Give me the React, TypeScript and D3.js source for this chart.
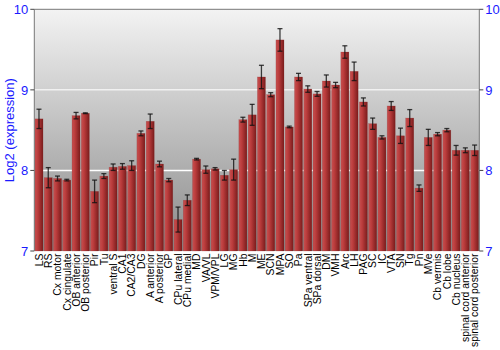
import React from "react";
import * as d3 from "d3";

const categories = ["LS","RS","Cx motor","Cx cingulate","OB anterior","OB posterior","Pir","Tu","ventral S","CA1","CA2/CA3","DG","A anterior","A posterior","GP","CPu lateral","CPu medial","MD","VA/VL","VPM/VPL","LG","MG","Hb","M","ME","SCN","MPA","SO","Pa","SPa ventral","SPa dorsal","DM","VMH","Arc","LH","PAG","SC","IC","VTA","SN","Tg","Pn","MVe","Cb vermis","Cb lobe","Cb nucleus","spinal cord anterior","spinal cord posterior"];
const values = [8.64,7.91,7.90,7.88,8.68,8.71,7.74,7.93,8.04,8.05,8.06,8.46,8.61,8.08,7.88,7.39,7.63,8.14,8.01,8.02,7.94,8.01,8.63,8.69,9.16,8.94,9.62,8.54,9.16,9.01,8.95,9.11,9.06,9.47,9.23,8.85,8.58,8.41,8.80,8.43,8.65,7.78,8.41,8.45,8.50,8.25,8.25,8.25];
const errors = [0.12,0.125,0.03,0.01,0.04,0.005,0.14,0.03,0.04,0.035,0.06,0.03,0.09,0.035,0.02,0.155,0.066,0.01,0.045,0.015,0.06,0.13,0.03,0.13,0.145,0.025,0.14,0.01,0.045,0.04,0.03,0.075,0.033,0.077,0.115,0.05,0.07,0.02,0.055,0.095,0.105,0.04,0.1,0.02,0.02,0.06,0.03,0.065];
const yTicks = [7,8,9,10];
const yTitle = "Log2 (expression)";

export default function App() {
  const W = 500, H = 350;
  const left = 34.3, right = 479.3, top = 9.3, bottom = 251;
  const x = d3.scaleBand<string>().domain(categories).range([left, right]).paddingInner(0.13).paddingOuter(0.07);
  const y = d3.scaleLinear().domain([7, 10]).range([bottom, top]);
  const font = "'Liberation Sans', Arial, sans-serif";
  const blue = "#1a1aff";
  return (
    <svg width={W} height={H} style={{ position: "absolute", left: 0, top: 0 }} xmlns="http://www.w3.org/2000/svg">
      <defs>
        <linearGradient id="bg" x1="0" y1="0" x2="0" y2="1">
          <stop offset="0%" stopColor="#f3f3f3" />
          <stop offset="100%" stopColor="#8a8a8a" />
        </linearGradient>
        <linearGradient id="bar" x1="0" y1="0" x2="1" y2="0">
          <stop offset="0%" stopColor="#c65050" />
          <stop offset="35%" stopColor="#bb3c3c" />
          <stop offset="100%" stopColor="#7a1c1c" />
        </linearGradient>
      </defs>
      <rect x={0} y={0} width={W} height={H} fill="#ffffff" />
      <rect x={left} y={top} width={right - left} height={bottom - top} fill="url(#bg)" />
      {yTicks.filter(t => t > 7 && t < 10).map(t => (
        <line key={t} x1={left} x2={right} y1={y(t)} y2={y(t)} stroke="#ffffff" strokeOpacity={t === 9 ? 0.7 : 1} strokeWidth={1.5} />
      ))}
      {categories.map((c, i) => (
        <g key={c}>
          <rect x={x(c)!} y={y(values[i])} width={x.bandwidth()} height={bottom - y(values[i])} fill="url(#bar)" stroke="#8a2a2a" strokeOpacity={0.4} strokeWidth={0.5} />
        </g>
      ))}
      {categories.map((c, i) => {
        const cx = x(c)! + x.bandwidth() / 2;
        const y1 = y(values[i] + errors[i]);
        const y2 = y(values[i] - errors[i]);
        return (
          <g key={"e" + c} stroke="#111" strokeOpacity={0.8} strokeWidth={1.3}>
            <line x1={cx} x2={cx} y1={y1} y2={y2} />
            <line x1={cx - 2.5} x2={cx + 2.5} y1={y1} y2={y1} />
            <line x1={cx - 2.5} x2={cx + 2.5} y1={y2} y2={y2} />
          </g>
        );
      })}
      <line x1={left} x2={right} y1={top} y2={top} stroke="#777" strokeWidth={1} />
      <line x1={left} x2={left} y1={top} y2={bottom} stroke="#777" strokeWidth={1} />
      <line x1={right} x2={right} y1={top} y2={bottom} stroke="#777" strokeWidth={1} />
      {yTicks.map(t => (
        <g key={"t" + t}>
          <line x1={left - 4} x2={left} y1={y(t)} y2={y(t)} stroke="#444" />
          <line x1={right} x2={right + 4} y1={y(t)} y2={y(t)} stroke="#444" />
          <text x={left - 6} y={y(t)} dy="0.36em" textAnchor="end" fontFamily={font} fontSize={13} fill={blue}>{t}</text>
          <text x={right + 6} y={y(t)} dy="0.36em" textAnchor="start" fontFamily={font} fontSize={13} fill={blue}>{t}</text>
        </g>
      ))}
      <text transform={`translate(9,${(top + bottom) / 2}) rotate(-90)`} textAnchor="middle" dy="0.36em" fontFamily={font} fontSize={13} fill={blue}>{yTitle}</text>
      {categories.map(c => (
        <text key={"l" + c} transform={`translate(${x(c)! + x.bandwidth() / 2},${bottom + 2.5}) rotate(-90)`} textAnchor="end" dy="0.36em" fontFamily={font} fontSize={10.4} fill="#000">{c}</text>
      ))}
    </svg>
  );
}
